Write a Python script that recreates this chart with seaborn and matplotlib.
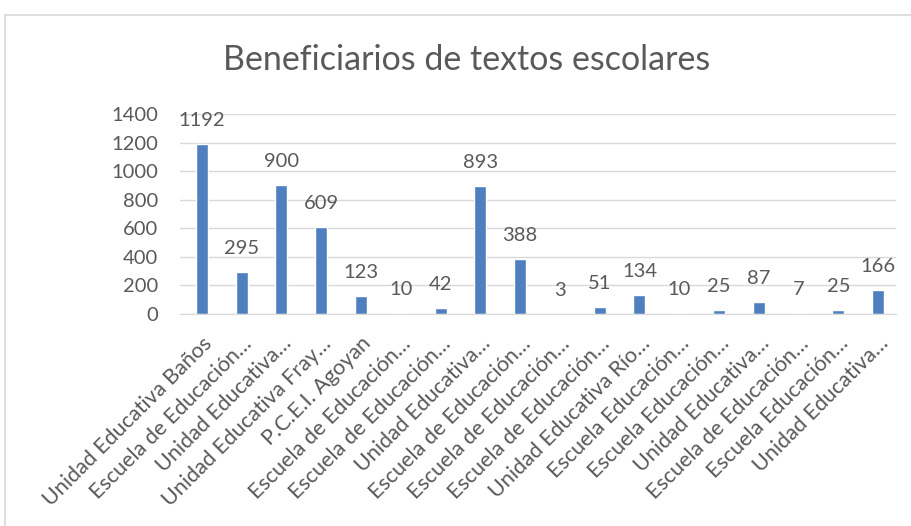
import pandas as pd
import seaborn as sns
import matplotlib.pyplot as plt
from matplotlib.patches import Rectangle

escuelas = [
    "Unidad Educativa Baños", "Escuela de Educación…", "Unidad Educativa…",
    "Unidad Educativa Fray…", "P.C.E.I. Agoyan", "Escuela de Educación…",
    "Escuela de Educación…", "Unidad Educativa…", "Escuela de Educación…",
    "Escuela de Educación…", "Escuela de Educación…", "Unidad Educativa Río…",
    "Escuela Educación…", "Escuela Educación…", "Unidad Educativa…",
    "Escuela de Educación…", "Escuela Educación…", "Unidad Educativa…",
]
beneficiarios = [1192, 295, 900, 609, 123, 10, 42, 893, 388, 3, 51, 134,
                 10, 25, 87, 7, 25, 166]
yticks = [0, 200, 400, 600, 800, 1000, 1200, 1400]

df = pd.DataFrame({"id": range(len(escuelas)), "Beneficiarios": beneficiarios})

sns.set_style("white")
plt.rcParams["font.family"] = ["Lato", "DejaVu Sans"]
gris = "#595959"

fig = plt.figure(figsize=(9.12, 5.26), dpi=100)
fig.patches.append(Rectangle((5 / 912, -0.1), 1.2, 1 - 15 / 526 + 0.1,
                             transform=fig.transFigure, fill=False,
                             edgecolor="#D9D9D9", linewidth=1.2))
ax = fig.add_axes([180 / 912, 1 - 314 / 526, 716 / 912, 200 / 526])

sns.barplot(data=df, x="id", y="Beneficiarios", color="#4F7FBF",
            width=0.3, saturation=1, ax=ax)

for i, v in enumerate(beneficiarios):
    ax.annotate(str(v), (i, v), xytext=(0, 13), textcoords="offset points",
                ha="center", va="baseline", fontsize=14.5, color=gris)

ax.set_ylim(0, 1400)
ax.set_yticks(yticks)
ax.set_yticklabels([str(t) for t in yticks], fontsize=14.5, color=gris)
ax.set_xticks(range(len(escuelas)))
ax.set_xticklabels(escuelas, rotation=45, ha="right", rotation_mode="anchor",
                   fontsize=15.5, color=gris)
ax.tick_params(axis="y", length=0, pad=16)
ax.tick_params(axis="x", length=0, pad=14)
ax.yaxis.grid(True, color="#D9D9D9", linewidth=1)
ax.set_axisbelow(True)
ax.set_xlim(-0.55, len(escuelas) - 0.55)
sns.despine(ax=ax, left=True, top=True, right=True)
ax.spines["bottom"].set_color("#D9D9D9")
ax.set_xlabel("")
ax.set_ylabel("")

fig.text(0.512, 0.886, "Beneficiarios de textos escolares", ha="center",
         va="center", fontsize=24.5, color=gris)

fig.savefig("out.png", dpi=100)
